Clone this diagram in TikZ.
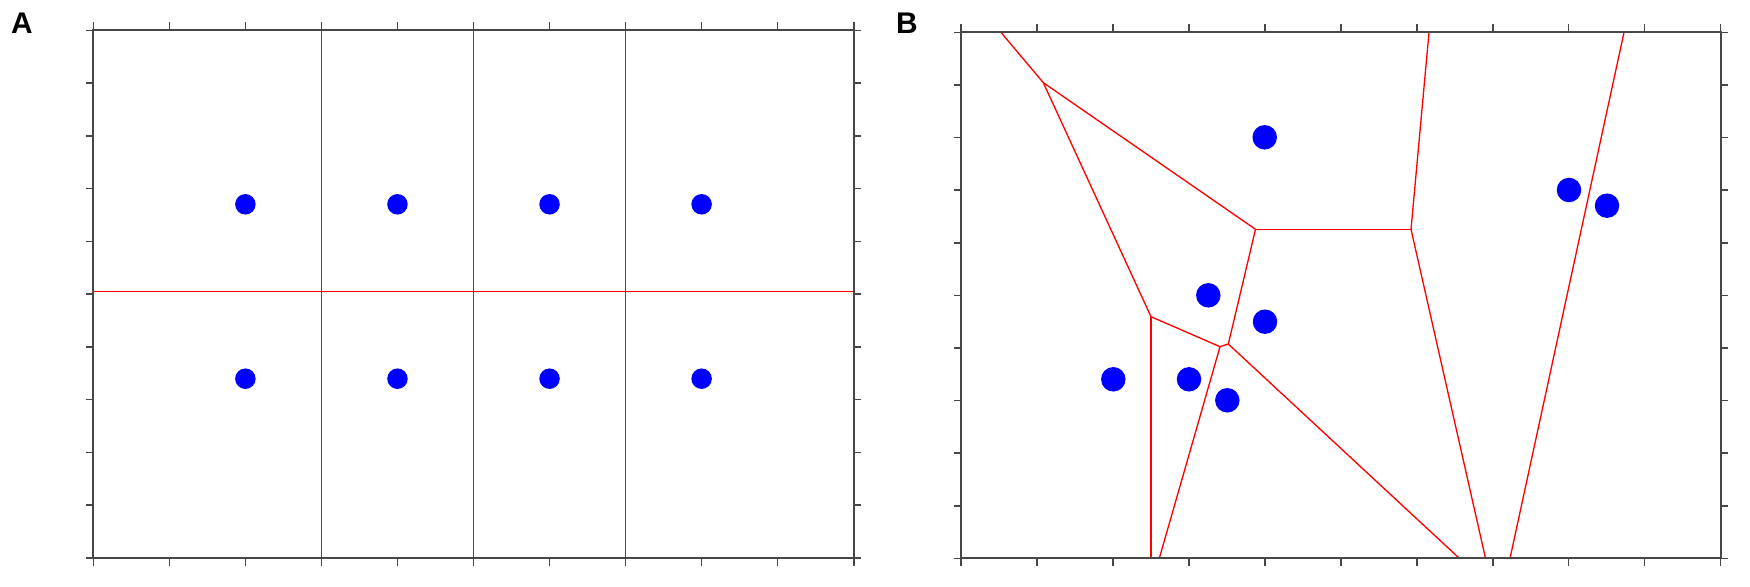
\documentclass[tikz,border=0pt]{standalone}
\usepackage{fontspec}
\setmainfont{Liberation Sans}
\begin{document}
\begin{tikzpicture}[x=0.02cm,y=-0.02cm,
  frame/.style={draw=black!72, line width=1.2pt},
  tickmark/.style={draw=black!72, line width=0.9pt},
  vedge/.style={draw=red, line width=0.75pt},
  siteA/.style={circle, fill=blue, inner sep=0pt, minimum size=0.41cm},
  siteB/.style={circle, fill=blue, inner sep=0pt, minimum size=0.49cm},
  panellabel/.style={font=\fontsize{17}{17}\selectfont\bfseries, inner sep=0pt}]
\useasboundingbox (0,0) rectangle (1750,587);

% ---------------- Panel A ----------------
\node[panellabel] (labA) at (22,23.5) {A};
\coordinate (A-nw) at (93.3,30.3);
\coordinate (A-se) at (853.7,558);
% Voronoi edges
\foreach \k [count=\n] in {3,5,7}{
  \coordinate (A-v\n-t) at ({93.3+76.04*\k},30.3);
  \coordinate (A-v\n-b) at ({93.3+76.04*\k},558);
  \draw[vedge] (A-v\n-t) -- (A-v\n-b);
}
\coordinate (A-h-l) at (93.3,291.3);
\coordinate (A-h-r) at (853.7,291.3);
\draw[vedge] (A-h-l) -- (A-h-r);
% frame and ticks
\draw[frame] (A-nw) rectangle (A-se);
\foreach \i in {0,...,10}{
  \draw[tickmark] ({93.3+76.04*\i},30.3) -- ++(0,-8);
  \draw[tickmark] ({93.3+76.04*\i},558) -- ++(0,8);
}
\foreach \j in {0,...,10}{
  \draw[tickmark] (93.3,{30.3+52.77*\j}) -- ++(-7.5,0);
  \draw[tickmark] (853.7,{30.3+52.77*\j}) -- ++(7.5,0);
}
% sites
\foreach \k [count=\n] in {2,4,6,8}{
  \node[siteA] (A-s\n-u) at ({93.3+76.04*\k},204.3) {};
  \node[siteA] (A-s\n-l) at ({93.3+76.04*\k},378.7) {};
}

% ---------------- Panel B ----------------
\node[panellabel] (labB) at (907,23.5) {B};
\coordinate (B-nw) at (961,32.4);
\coordinate (B-se) at (1720.6,558.3);
% Voronoi vertices
\coordinate (T1) at (1001,32.4);
\coordinate (T2) at (1429,32.4);
\coordinate (T3) at (1624,32.4);
\coordinate (V1) at (1043.3,82.7);
\coordinate (V2) at (1255.5,229.3);
\coordinate (V3) at (1151,316.7);
\coordinate (V4) at (1411,229.3);
\coordinate (V5) at (1228.3,344);
\coordinate (V6) at (1220,346.7);
\coordinate (B1) at (1151,558.3);
\coordinate (B2) at (1159.3,558.3);
\coordinate (B3) at (1459.3,558.3);
\coordinate (B4) at (1485.5,558.3);
\coordinate (B5) at (1510,558.3);
% Voronoi edges
\draw[vedge] (T1) -- (V1);
\draw[vedge] (V1) -- (V2);
\draw[vedge] (V1) -- (V3);
\draw[vedge] (V2) -- (V4);
\draw[vedge] (V4) -- (T2);
\draw[vedge] (V4) -- (B4);
\draw[vedge] (V2) -- (V5);
\draw[vedge] (V3) -- (V6);
\draw[vedge] (V6) -- (V5);
\draw[vedge] (V3) -- (B1);
\draw[vedge] (V6) -- (B2);
\draw[vedge] (V5) -- (B3);
\draw[vedge] (T3) -- (B5);
% frame and ticks
\draw[frame] (B-nw) rectangle (B-se);
\foreach \i in {0,...,10}{
  \draw[tickmark] ({961+75.96*\i},32.4) -- ++(0,-8);
  \draw[tickmark] ({961+75.96*\i},558.3) -- ++(0,8);
}
\foreach \j in {0,...,10}{
  \draw[tickmark] (961,{32.4+52.59*\j}) -- ++(-7.5,0);
  \draw[tickmark] (1720.6,{32.4+52.59*\j}) -- ++(7.5,0);
}
% sites
\node[siteB] (B-s1) at (1264.7,137.3) {};
\node[siteB] (B-s2) at (1208.3,295.3) {};
\node[siteB] (B-s3) at (1265,321.7) {};
\node[siteB] (B-s4) at (1113.3,379.3) {};
\node[siteB] (B-s5) at (1189,379.3) {};
\node[siteB] (B-s6) at (1227.3,400.3) {};
\node[siteB] (B-s7) at (1569,190) {};
\node[siteB] (B-s8) at (1607,205.7) {};
\end{tikzpicture}
\end{document}
